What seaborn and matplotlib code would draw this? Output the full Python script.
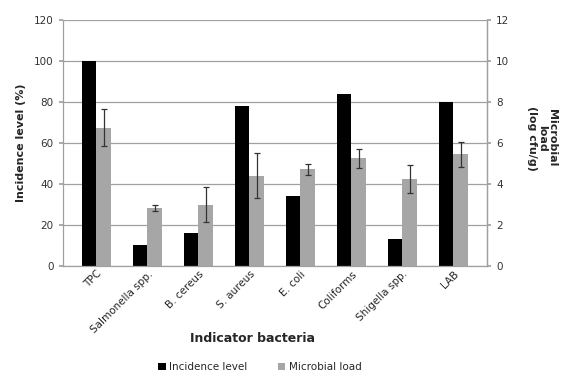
import matplotlib
matplotlib.use("Agg")
import matplotlib.pyplot as plt
import seaborn as sns
import pandas as pd
import numpy as np

categories = ["TPC", "Salmonella spp.", "B. cereus", "S. aureus", "E. coli",
              "Coliforms", "Shigella spp.", "LAB"]
incidence = [100, 10, 16, 78, 34, 84, 13, 80]
microbial_load = [6.75, 2.85, 3.0, 4.4, 4.72, 5.25, 4.23, 5.45]
load_err = [0.9, 0.15, 0.85, 1.1, 0.27, 0.47, 0.68, 0.6]

sns.set_theme(style="white")
plt.rcParams['font.family'] = ['DejaVu Sans']

# right axis (0-12) is 1/10 of left axis (0-120)
scale = 10.0
df = pd.DataFrame({
    "cat": categories * 2,
    "series": ["Incidence level"] * len(categories) + ["Microbial load"] * len(categories),
    "value": list(incidence) + [v * scale for v in microbial_load],
})

fig = plt.figure(figsize=(5.71, 3.72), dpi=100)
ax = fig.add_axes([0.110, 0.285, 0.743, 0.661])
sns.barplot(data=df, x="cat", y="value", hue="series", order=categories,
            hue_order=["Incidence level", "Microbial load"],
            palette=["#000000", "#a6a6a6"], width=0.56, ax=ax,
            errorbar=None, legend=True, saturation=1, linewidth=0)

# error bars on the microbial-load bars
gray_patches = [p for p in ax.patches if p.get_height() > 0][len(categories):2 * len(categories)]
xs = [p.get_x() + p.get_width() / 2 for p in gray_patches]
ax.errorbar(xs, [v * scale for v in microbial_load], yerr=[e * scale for e in load_err],
            fmt="none", ecolor="#333333", elinewidth=0.9, capsize=2.5, capthick=0.9)

ax.set_ylim(0, 120)
ax.set_yticks(range(0, 121, 20))
ax.yaxis.grid(True, color="#a0a0a0", linewidth=0.9)
ax.set_axisbelow(True)
ax.spines["top"].set_visible(False)
for s in ["left", "bottom", "right"]:
    ax.spines[s].set_color("#a0a0a0")
    ax.spines[s].set_linewidth(0.9)
ax.tick_params(axis="y", labelsize=7.5, colors="#333333", length=3, color="#a0a0a0", left=True)
ax.tick_params(axis="x", labelsize=7.5, length=0, pad=2)
plt.setp(ax.get_xticklabels(), rotation=45, ha="right", rotation_mode="anchor")
ax.set_xlabel("Indicator bacteria", fontsize=9, fontweight="bold", labelpad=2)
ax.xaxis.set_label_coords(0.448, -0.27)
ax.set_ylabel("Incidence level (%)", fontsize=8, fontweight="bold", labelpad=6)

ax2 = ax.twinx()
ax2.set_ylim(0, 12)
ax2.set_yticks(range(0, 13, 2))
ax2.tick_params(axis="y", labelsize=7.5, colors="#333333", length=3, color="#a0a0a0", right=True)
for s in ["top", "left", "bottom"]:
    ax2.spines[s].set_visible(False)
ax2.spines["right"].set_color("#a0a0a0")
ax2.spines["right"].set_linewidth(0.9)
ax2.set_ylabel("Microbial\nload\n(log cfu/g)", fontsize=8, fontweight="bold",
               rotation=270, linespacing=1.0, va="center", ha="center")
ax2.yaxis.set_label_coords(1.13, 0.52)

leg = ax.get_legend()
handles = leg.legend_handles
leg.remove()
fig.legend(handles, ["Incidence level", "Microbial load"], loc="lower center",
           bbox_to_anchor=(0.455, -0.025), ncol=2, frameon=False, fontsize=7.5,
           handlelength=0.7, handleheight=0.7, handletextpad=0.3, columnspacing=3)

fig.savefig("out.png", dpi=100)
